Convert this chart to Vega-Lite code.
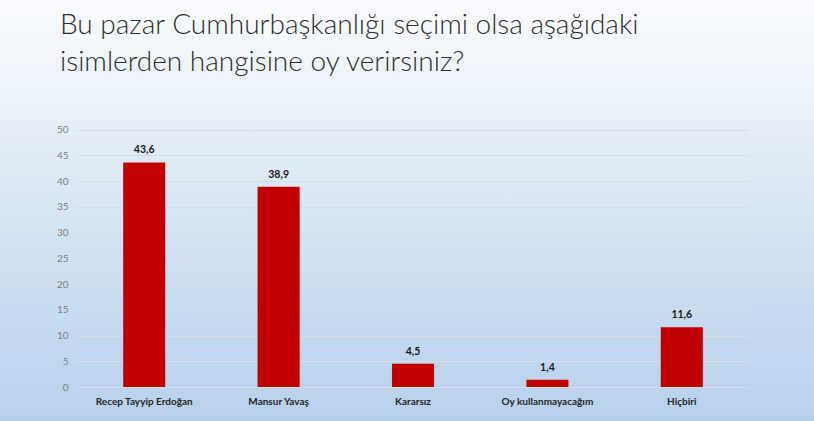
{
  "$schema": "https://vega.github.io/schema/vega-lite/v6.json",
  "width": 814,
  "height": 421,
  "autosize": "none",
  "padding": 0,
  "config": {
    "view": {
      "stroke": null,
      "fill": {"gradient": "linear", "x1": 0, "y1": 0, "x2": 0, "y2": 1,
        "stops": [{"offset": 0, "color": "#fbfcfe"}, {"offset": 0.35, "color": "#e2ecf6"}, {"offset": 1, "color": "#b7d0ea"}]}
    },
    "locale": {"number": {"decimal": ",", "thousands": ".", "grouping": [3], "currency": ["", " TL"]}},
    "font": "Lato"
  },
  "title": {
    "text": ["Bu pazar Cumhurbaşkanlığı seçimi olsa aşağıdaki", "isimlerden hangisine oy verirsiniz?"],
    "anchor": "start",
    "frame": "group",
    "orient": "top",
    "offset": -77,
    "dx": 60,
    "font": "Lato",
    "fontSize": 28,
    "fontWeight": 300,
    "color": "#2e2e2e",
    "lineHeight": 37
  },
  "data": {
    "values": [
      {"secenek": "Recep Tayyip Erdoğan", "oran": 43.6},
      {"secenek": "Mansur Yavaş", "oran": 38.9},
      {"secenek": "Kararsız", "oran": 4.5},
      {"secenek": "Oy kullanmayacağım", "oran": 1.4},
      {"secenek": "Hiçbiri", "oran": 11.6}
    ]
  },
  "encoding": {
    "x": {
      "field": "secenek", "type": "nominal", "sort": null,
      "scale": {"range": [77, 749], "paddingInner": 0.687, "paddingOuter": 0.3435},
      "axis": {"title": null, "orient": "bottom", "offset": -34, "domain": false, "ticks": false, "labelAngle": 0,
        "labelPadding": 9, "labelFont": "Lato", "labelFontSize": 10, "labelFontWeight": "bold", "labelColor": "#262626"}
    },
    "y": {
      "field": "oran", "type": "quantitative",
      "scale": {"domain": [0, 50], "range": [387, 129.5], "nice": false, "zero": true},
      "axis": {"title": null, "orient": "left", "offset": -77, "domain": false, "ticks": false, "values": [0,5,10,15,20,25,30,35,40,45,50],
        "labelPadding": 9, "labelFont": "Lato", "labelFontSize": 10, "labelColor": "#7f7f7f",
        "grid": true, "gridColor": "#d6dde5", "gridWidth": 1}
    }
  },
  "layer": [
    {"mark": {"type": "bar", "color": "#c00000"}},
    {"mark": {"type": "text", "baseline": "bottom", "dy": -7, "font": "Lato", "fontSize": 10.5, "fontWeight": "bold", "color": "#1a1a1a"},
     "encoding": {"text": {"field": "oran", "type": "quantitative", "format": ".1f"}}}
  ]
}
